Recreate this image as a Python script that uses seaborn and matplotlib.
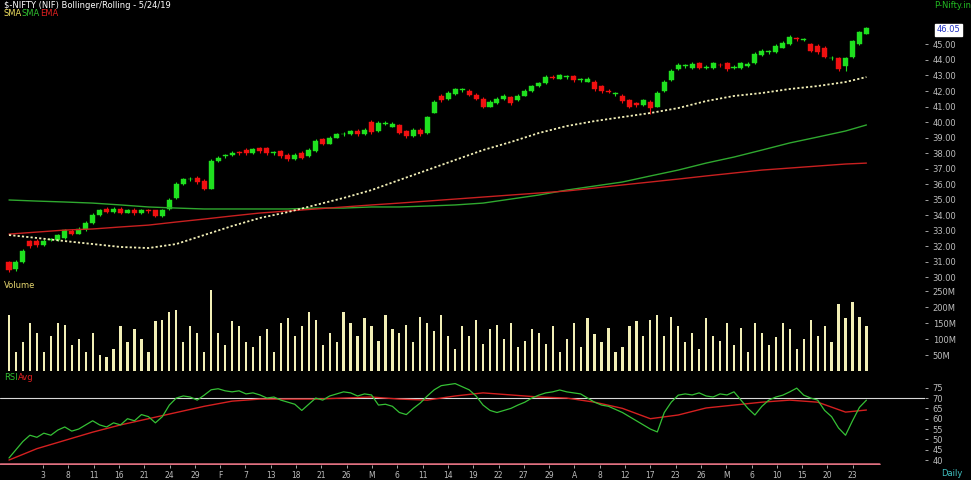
import numpy as np
import pandas as pd
import matplotlib
matplotlib.use("Agg")
import matplotlib.pyplot as plt
import seaborn as sns

# ---------------- data ----------------
opens = [30.95,30.5,30.95,32.3,32.35,32.05,32.4,32.4,32.5,33.0,32.8,33.1,33.5,34.0,34.4,34.2,34.4,34.15,34.35,34.1,
         34.3,34.3,33.95,34.4,35.1,36.0,36.3,36.4,36.2,35.7,37.5,37.8,37.85,38.05,38.2,38.0,38.3,38.3,38.0,38.1,
         37.9,37.6,38.0,37.8,38.1,38.9,38.6,39.0,39.2,39.2,39.45,39.2,40.0,39.4,39.9,39.7,39.8,39.4,39.1,39.5,
         39.3,40.6,41.7,41.5,41.8,42.05,42.0,41.75,41.5,41.0,41.2,41.5,41.6,41.4,41.7,42.0,42.3,42.5,42.9,42.8,
         42.9,42.95,42.7,42.6,42.6,42.3,42.0,41.8,41.7,41.4,41.2,41.1,41.3,41.0,42.0,42.7,43.4,43.6,43.5,43.8,
         43.5,43.5,43.7,43.8,43.5,43.5,43.6,43.8,44.3,44.5,44.5,44.8,45.0,45.4,45.3,45.0,44.9,44.8,44.1,44.1,
         43.6,44.2,45.0,45.7]
closes = [30.45,31.0,31.7,32.0,32.05,32.35,32.45,32.7,33.05,32.8,33.1,33.5,34.0,34.3,34.2,34.4,34.15,34.3,34.1,34.3,
          34.25,33.95,34.3,35.0,36.0,36.3,36.35,36.1,35.7,37.5,37.7,37.85,38.0,38.0,38.0,38.25,38.1,38.0,38.05,37.8,
          37.6,37.9,37.7,38.2,38.8,38.6,39.0,39.2,39.25,39.4,39.2,39.5,39.35,39.95,39.95,39.9,39.3,39.1,39.5,39.2,
          40.3,41.3,41.4,41.9,42.1,42.1,41.75,41.5,41.0,41.3,41.5,41.7,41.2,41.7,42.0,42.3,42.5,42.9,42.85,43.0,
          42.95,42.7,42.75,42.8,42.1,42.0,41.95,41.85,41.35,41.0,41.1,41.4,40.9,41.9,42.6,43.3,43.7,43.65,43.75,43.5,
          43.55,43.8,43.65,43.4,43.55,43.8,43.75,44.4,44.6,44.55,44.9,45.1,45.5,45.35,45.3,44.6,44.5,44.2,44.15,43.4,
          44.1,45.2,45.8,46.05]
highs = [31.05,31.1,31.8,32.4,32.45,32.45,32.55,32.8,33.1,33.1,33.2,33.6,34.1,34.4,34.5,34.5,34.5,34.4,34.45,34.4,
         34.4,34.35,34.4,35.1,36.1,36.4,36.45,36.5,36.3,37.6,37.8,37.95,38.1,38.15,38.3,38.35,38.4,38.4,38.15,38.2,
         38.0,38.0,38.1,38.3,38.9,39.0,39.1,39.3,39.35,39.5,39.55,39.6,40.1,40.05,40.05,40.0,39.9,39.5,39.6,39.6,
         40.4,41.4,41.8,42.0,42.2,42.2,42.1,41.85,41.6,41.4,41.6,41.8,41.7,41.8,42.1,42.4,42.6,43.0,43.0,43.1,
         43.05,43.05,42.85,42.9,42.7,42.4,42.1,41.95,41.8,41.5,41.3,41.5,41.4,42.0,42.7,43.4,43.8,43.75,43.85,43.9,
         43.65,43.9,43.8,43.9,43.65,43.9,43.85,44.5,44.7,44.65,45.0,45.2,45.6,45.5,45.4,45.1,45.0,44.9,44.25,44.2,
         44.2,45.3,45.9,46.15]
lows = [30.3,30.4,30.9,31.9,31.95,32.0,32.3,32.35,32.45,32.7,32.75,33.0,33.45,33.95,34.1,34.15,34.05,34.1,34.0,34.05,
        34.15,33.85,33.9,34.35,35.05,35.95,36.2,36.0,35.6,35.65,37.4,37.7,37.8,37.9,37.9,37.95,38.0,37.9,37.9,37.7,
        37.5,37.55,37.6,37.75,38.05,38.5,38.55,38.95,39.1,39.15,39.1,39.15,39.25,39.35,39.8,39.65,39.2,39.0,39.05,39.1,
        39.25,40.55,41.3,41.45,41.75,41.95,41.65,41.4,40.9,40.95,41.15,41.45,41.1,41.35,41.65,41.95,42.25,42.45,42.75,42.75,
        42.8,42.6,42.6,42.55,42.0,41.9,41.85,41.7,41.25,40.9,41.0,41.05,40.5,40.95,41.95,42.65,43.35,43.5,43.45,43.4,
        43.4,43.45,43.55,43.3,43.4,43.45,43.55,43.75,44.25,44.4,44.45,44.75,44.95,45.25,45.2,44.5,44.4,44.1,44.0,43.3,
        43.3,44.15,44.95,45.65]
volume_m = [175,60,90,150,120,60,110,150,145,80,100,60,120,50,45,70,140,90,130,100,
            60,155,160,185,190,90,140,120,60,253,120,80,155,140,90,75,110,130,60,150,
            165,110,140,185,160,80,120,90,185,150,110,165,140,95,175,130,120,145,90,170,
            150,125,175,110,70,140,110,160,85,130,145,100,150,75,95,130,120,85,140,60,
            100,150,75,165,115,90,135,60,75,140,155,110,160,175,110,170,140,90,120,70,
            165,110,95,150,80,135,60,150,120,80,105,150,130,70,100,160,110,140,90,210,
            165,215,170,140]
rsi = [41,45,49,52,51,53,52,54.5,56,54,55,57,59,57,56,58,57,60,59,62,
       61,58,61,66.6,70,71,70.5,69,71.4,74,74.5,73.5,73,73.5,72,72.5,71.5,70,70.5,69,
       68,67,64,67,70,69,71,72,73,72.5,71,72,71.5,66.6,67,66,63,62,65,67.6,
       71,74,76,76.5,77,75.5,74,71,66.6,64,63,64,65,66.6,68,70,71.4,72.5,73,73.9,
       73,72.5,72,70,68,66.6,66,64.5,63,61,59,57,55,53.6,63,68,71.4,72,71.5,72.5,
       71,70.5,72,71.5,73,69,65,61.8,66,69,70.5,71.4,73,74.8,71.4,70,69,64,61,55.5,
       52,59,65.5,69]
ma_idx = [0,4,8,12,16,20,24,28,32,36,40,44,48,52,56,60,64,68,72,76,80,84,88,92,96,100,104,108,112,116,120,123]
sma_short = [32.71,32.52,32.32,32.13,31.94,31.87,32.13,32.71,33.29,33.81,34.19,34.65,35.1,35.61,36.26,36.9,
             37.55,38.19,38.71,39.29,39.74,40.06,40.32,40.58,40.9,41.35,41.68,41.87,42.13,42.32,42.58,42.9]
sma_long = [34.97,34.9,34.84,34.77,34.65,34.52,34.45,34.39,34.39,34.39,34.39,34.45,34.45,34.52,34.52,34.58,
            34.65,34.77,35.03,35.29,35.61,35.87,36.13,36.52,36.9,37.35,37.74,38.19,38.65,39.03,39.42,39.81]
ema_line = [32.77,32.9,33.03,33.1,33.23,33.35,33.55,33.74,33.94,34.13,34.26,34.39,34.52,34.65,34.77,34.9,
            35.03,35.16,35.29,35.42,35.55,35.74,35.94,36.13,36.32,36.52,36.71,36.9,37.03,37.16,37.29,37.35]
rsi_avg = [40,45.5,49.5,53.5,57,60,63,66,68.5,69.5,69.5,69.5,70,70.5,69.5,69,71,72.5,71.5,70.5,70,68,65,
           60,61.8,65.2,66.6,68,69,68,63.2,64.2]
price_ticks = [30,31,32,33,34,35,36,37,38,39,40,41,42,43,44,45]
vol_ticks = [50,100,150,200,250]
rsi_ticks = [40,45,50,55,60,65,70,75]
date_labels = ["3","8","11","16","21","24","29","F","7","13","18","21","26","M","6","11","14","19","22",
               "27","29","A","8","12","17","23","26","M","6","10","15","20","23"]
last_price = "46.05"

# ---------------- style ----------------
sns.set_theme(style="dark")
plt.rcParams['font.family'] = ['DejaVu Sans']
W, H = 971, 480
fig = plt.figure(figsize=(W/100, H/100), dpi=100, facecolor="black")

def axes_px(x0, y0, x1, y1):
    return fig.add_axes([x0/W, 1-y1/H, (x1-x0)/W, (y1-y0)/H])

ax_p = axes_px(0, 0, 925, 282)
ax_v = axes_px(0, 283, 925, 373)
ax_r = axes_px(0, 378, 925, 465)

xlo, xhi = -1.29, 131.4
tick_col = "#bdbdbd"
for ax in (ax_p, ax_v, ax_r):
    ax.set_facecolor("black")
    ax.grid(False)
    for s in ax.spines.values():
        s.set_visible(False)
    ax.set_xlim(xlo, xhi)
    ax.yaxis.tick_right()
    ax.tick_params(axis='y', right=True, left=False, labelright=True, labelleft=False,
                   length=2.5, width=0.6, colors=tick_col, labelsize=6, pad=3)
    ax.tick_params(axis='x', bottom=False, labelbottom=False)

# ---------------- price panel ----------------
df = pd.DataFrame({"i": np.arange(len(opens)), "o": opens, "c": closes, "h": highs, "l": lows})
up = df["c"] >= df["o"]
cols = np.where(up, "#1fe01f", "#f01010")
ax_p.vlines(df["i"], df["l"], df["h"], colors=cols, lw=0.8)
body_b = np.minimum(df["o"], df["c"])
body_h = np.maximum(np.abs(df["c"] - df["o"]), 0.04)
ax_p.bar(df["i"], body_h, bottom=body_b, width=0.72, color=cols, edgecolor=cols, linewidth=0.3)

ma = pd.DataFrame({"i": ma_idx, "s": sma_short, "l": sma_long, "e": ema_line})
sns.lineplot(data=ma, x="i", y="l", ax=ax_p, color="#2fa82f", lw=1.0)
sns.lineplot(data=ma, x="i", y="e", ax=ax_p, color="#c82020", lw=1.0)
sns.lineplot(data=ma, x="i", y="s", ax=ax_p, color="#f3f0b8", lw=1.3, linestyle=(0, (1.2, 1.2)))
ax_p.set_ylim(29.68, 47.87)
ax_p.set_yticks(price_ticks)
ax_p.set_yticklabels([f"{t:.2f}" for t in price_ticks])
ax_p.set_xlabel(""); ax_p.set_ylabel("")

# ---------------- volume panel ----------------
ax_v.bar(np.arange(len(volume_m)), volume_m, width=0.32, color="#f2efb6", linewidth=0)
ax_v.set_ylim(-6, 275)
ax_v.set_yticks(vol_ticks)
ax_v.set_yticklabels([f"{t}M" for t in vol_ticks])

# ---------------- RSI panel ----------------
rd = pd.DataFrame({"i": np.arange(len(rsi)), "r": rsi})
ra = pd.DataFrame({"i": ma_idx, "a": rsi_avg})
ax_r.axhline(70, color="#d8d8d8", lw=0.8)
sns.lineplot(data=ra, x="i", y="a", ax=ax_r, color="#d42020", lw=1.0)
sns.lineplot(data=rd, x="i", y="r", ax=ax_r, color="#35c035", lw=0.9)
ax_r.set_ylim(37.6, 79.7)
ax_r.axhline(38.3, xmax=0.95, color="#e07080", lw=1.8)
ax_r.set_yticks(rsi_ticks)
ax_r.set_yticklabels([str(t) for t in rsi_ticks])
ax_r.set_xlabel(""); ax_r.set_ylabel("")
xt = 4.88 + 3.63 * np.arange(len(date_labels))
ax_r.set_xticks(xt)
ax_r.set_xticklabels(date_labels)
ax_r.tick_params(axis='x', bottom=True, labelbottom=True, length=2.5, width=0.6,
                 colors=tick_col, labelsize=5.5, pad=2)

# ---------------- texts ----------------
def ftext(x, y, s, **kw):
    fig.text(x/W, 1-y/H, s, va="center", **kw)

ftext(4, 5, "$-NIFTY (NIF) Bollinger/Rolling - 5/24/19", color="white", fontsize=6)
ftext(4, 14, "SMA", color="#f0e060", fontsize=6)
ftext(22, 14, "SMA", color="#30c030", fontsize=6)
ftext(40, 14, "EMA", color="#e02020", fontsize=6)
ftext(934, 5, "P-Nifty.in", color="#22bb22", fontsize=6)
ftext(937, 30, last_price, color="#2030c0", fontsize=6,
      bbox=dict(boxstyle="square,pad=0.2", fc="white", ec="white"))
ftext(4, 286, "Volume", color="#e8d870", fontsize=6)
ftext(4, 377, "RSI", color="#30c030", fontsize=6)
ftext(18, 377, "Avg", color="#e02020", fontsize=6)
ftext(941, 473, "Daily", color="#40c0c0", fontsize=6)

fig.savefig("out.png", dpi=100, facecolor="black")
